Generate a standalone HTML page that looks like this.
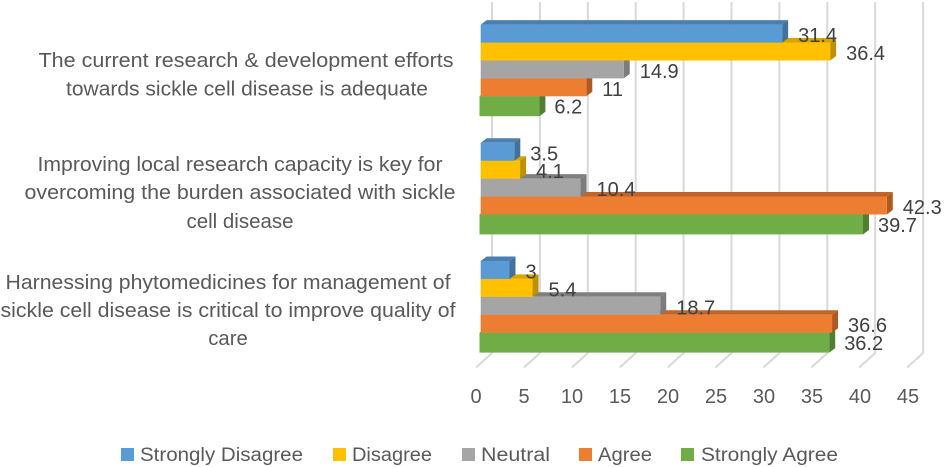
<!DOCTYPE html>
<html lang="en">
<head>
<meta charset="utf-8">
<title>Survey responses on sickle cell disease research</title>
<style>
  html, body { margin: 0; padding: 0; background: #ffffff; }
  svg { display: block; font-family: "Liberation Sans", sans-serif; }
  .cat { font-size: 20px; fill: #595959; text-anchor: middle; }
  .leg { font-size: 19px; fill: #595959; }
  .tick { font-size: 20px; fill: #595959; text-anchor: middle; }
  .val { font-size: 20px; fill: #404040; }
</style>
</head>
<body>
<svg id="chart" xmlns="http://www.w3.org/2000/svg" width="944" height="467" viewBox="0 0 944 467">
  <g id="grid"></g>
  <g id="bars"></g>
  <g id="values"></g>
  <g id="ticks"></g>

  <g>
    <text class="cat" x="246" y="67" textLength="415" lengthAdjust="spacingAndGlyphs">The current research &amp; development efforts</text>
    <text class="cat" x="247" y="95.5" textLength="362" lengthAdjust="spacingAndGlyphs">towards sickle cell disease is adequate</text>
    <text class="cat" x="240" y="171" textLength="405" lengthAdjust="spacingAndGlyphs">Improving local research capacity is key for</text>
    <text class="cat" x="240" y="199" textLength="431" lengthAdjust="spacingAndGlyphs">overcoming the burden associated with sickle</text>
    <text class="cat" x="240" y="228" textLength="107" lengthAdjust="spacingAndGlyphs">cell disease</text>
    <text class="cat" x="228" y="289" textLength="445" lengthAdjust="spacingAndGlyphs">Harnessing phytomedicines for management of</text>
    <text class="cat" x="228" y="317" textLength="455" lengthAdjust="spacingAndGlyphs">sickle cell disease is critical to improve quality of</text>
    <text class="cat" x="228" y="345" textLength="39.5" lengthAdjust="spacingAndGlyphs">care</text>
  </g>

  <g>
    <rect x="121" y="448" width="13" height="13" fill="#5B9BD5"></rect>
    <text class="leg" x="140" y="461" textLength="163" lengthAdjust="spacingAndGlyphs">Strongly Disagree</text>
    <rect x="333" y="448" width="13" height="13" fill="#FFC000"></rect>
    <text class="leg" x="352" y="461" textLength="80" lengthAdjust="spacingAndGlyphs">Disagree</text>
    <rect x="462" y="448" width="13" height="13" fill="#A5A5A5"></rect>
    <text class="leg" x="481" y="461" textLength="69" lengthAdjust="spacingAndGlyphs">Neutral</text>
    <rect x="579" y="448" width="13" height="13" fill="#ED7D31"></rect>
    <text class="leg" x="598" y="461" textLength="54" lengthAdjust="spacingAndGlyphs">Agree</text>
    <rect x="681" y="448" width="13" height="13" fill="#70AD47"></rect>
    <text class="leg" x="701" y="461" textLength="137" lengthAdjust="spacingAndGlyphs">Strongly Agree</text>
  </g>
</svg>

<script>
// Chart data (one value per category, top category first)
const categories = ['research-development', 'local-capacity', 'phytomedicines'];
const stronglyDisagree = [31.4, 3.5, 3];
const disagree = [36.4, 4.1, 5.4];
const neutral = [14.9, 10.4, 18.7];
const agree = [11, 42.3, 36.6];
const stronglyAgree = [6.2, 39.7, 36.2];
const tickLabels = [0, 5, 10, 15, 20, 25, 30, 35, 40, 45];

const seriesList = [
  { key: 'strongly-disagree', values: stronglyDisagree, front: '#5B9BD5', top: '#4A7FB0', side: '#41719C' },
  { key: 'disagree', values: disagree, front: '#FFC000', top: '#D9A300', side: '#BF9000' },
  { key: 'neutral', values: neutral, front: '#A5A5A5', top: '#7F7F7F', side: '#7C7C7C' },
  { key: 'agree', values: agree, front: '#ED7D31', top: '#C0642A', side: '#AE5A21' },
  { key: 'strongly-agree', values: stronglyAgree, front: '#70AD47', top: '#5F933C', side: '#507E32' }
];

const NS = 'http://www.w3.org/2000/svg';
const depthX = 6;
const depthY = 4.5;

// Axis functions
function xFront(v) { return 480.7 + v * 9.6; }
function xFrontNearest(v) { return 479.5 + v * 9.66; }
function xBack(v) { return 492 + v * 9.58; }
function xTick(v) { return 476 + v * 9.6; }
function yGroup(c) { return 24.6 + c * 118.2; }
function yBar(c, s) { return yGroup(c) + s * 17.9; }

function make(tag, attrs, parent) {
  const el = document.createElementNS(NS, tag);
  Object.keys(attrs).forEach(function (k) { el.setAttribute(k, attrs[k]); });
  parent.appendChild(el);
  return el;
}

const gridLayer = document.getElementById('grid');
tickLabels.forEach(function (t) {
  const bx = xBack(t);
  const line = make('polyline', {
    points: bx + ',2 ' + bx + ',353 ' + (bx - 16) + ',367.5',
    fill: 'none', stroke: '#D9D9D9', 'stroke-width': 2
  }, gridLayer);
  
  
});

const tickLayer = document.getElementById('ticks');
tickLabels.forEach(function (t) {
  const label = make('text', { class: 'tick', x: xTick(t), y: 403 }, tickLayer);
  label.textContent = t;
  
  
});

// Lower series are painted first so the bar above covers their top face.
const barLayer = document.getElementById('bars');
for (let c = 0; c < categories.length; c++) {
  for (let s = seriesList.length - 1; s >= 0; s--) {
    const series = seriesList[s];
    const v = series.values[c];
    const nearest = s === seriesList.length - 1;
    const x0 = nearest ? xFrontNearest(0) : xFront(0);
    const x1 = nearest ? xFrontNearest(v) : xFront(v);
    const y0 = yBar(c, s);
    const h = nearest ? 20 : 18;

    const bar = make('g', {}, barLayer);
    
    

    make('polygon', {
      points: x0 + ',' + y0 + ' ' + (x0 + depthX) + ',' + (y0 - depthY) + ' ' +
        (x1 + depthX) + ',' + (y0 - depthY) + ' ' + x1 + ',' + y0,
      fill: series.top
    }, bar);
    make('polygon', {
      points: x1 + ',' + y0 + ' ' + (x1 + depthX) + ',' + (y0 - depthY) + ' ' +
        (x1 + depthX) + ',' + (y0 + h - depthY) + ' ' + x1 + ',' + (y0 + h),
      fill: series.side
    }, bar);
    make('rect', { x: x0, y: y0, width: x1 - x0, height: h, fill: series.front }, bar);
  }
}

const valueLayer = document.getElementById('values');
for (let c = 0; c < categories.length; c++) {
  seriesList.forEach(function (series, s) {
    const v = series.values[c];
    const nearest = s === seriesList.length - 1;
    const end = nearest ? xFrontNearest(v) : xFront(v);
    const label = make('text', {
      class: 'val',
      x: end + (nearest ? 15 : 16),
      y: yBar(c, s) + 17.5
    }, valueLayer);
    label.textContent = v;
    
    
  });
}
</script>
</body>
</html>
